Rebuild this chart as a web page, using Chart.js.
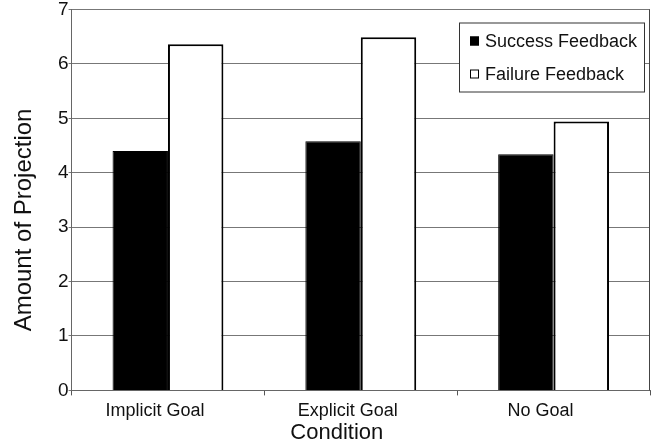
<!DOCTYPE html>
<html lang="en">
<head>
    <meta charset="UTF-8">
    <title>Amount of Projection by Condition</title>
    <script src="https://cdn.jsdelivr.net/npm/chart.js"></script>
    <style>
        html, body { margin: 0; padding: 0; background: #fff; }
        #wrap { width: 655px; height: 448px; position: relative; }
    </style>
</head>
<body>
    <div id="wrap"><canvas id="chart"></canvas></div>

    <script>
        const conditions = ['Implicit Goal', 'Explicit Goal', 'No Goal'];
        const successFeedback = [4.40, 4.58, 4.34];
        const failureFeedback = [6.36, 6.49, 4.94];
        const seriesNames = ['Success Feedback', 'Failure Feedback'];
        const xTitle = 'Condition';
        const yTitle = 'Amount of Projection';

        const FONT = '"Liberation Sans", Arial, sans-serif';

        // axis titles, right frame line and the boxed legend inside the plot
        const decorations = {
            id: 'decorations',
            afterDraw(chart) {
                const ctx = chart.ctx;
                const area = chart.chartArea;
                ctx.save();
                ctx.strokeStyle = '#444';
                ctx.lineWidth = 1;
                ctx.beginPath();
                ctx.moveTo(area.right - 0.5, area.top);
                ctx.lineTo(area.right - 0.5, area.bottom);
                ctx.stroke();

                // titles (sit a bit off-centre in the original)
                ctx.fillStyle = '#111';
                ctx.textAlign = 'center';
                ctx.textBaseline = 'middle';
                ctx.font = '22px ' + FONT;
                ctx.fillText(xTitle, area.left + (area.right - area.left) / 2 - 24, 433);
                ctx.save();
                ctx.translate(24, area.top + (area.bottom - area.top) / 2 + 20);
                ctx.rotate(-Math.PI / 2);
                ctx.font = '24px ' + FONT;
                ctx.fillText(yTitle, 0, 0);
                ctx.restore();

                const x = area.right - 191, y = area.top + 13, w = 185, h = 69;
                ctx.fillStyle = '#fff';
                ctx.fillRect(x, y, w, h);
                ctx.strokeStyle = '#333';
                ctx.strokeRect(x + 0.5, y + 0.5, w, h);
                ctx.font = '18px ' + FONT;
                ctx.textAlign = 'left';
                chart.data.datasets.forEach((ds, i) => {
                    const ly = y + 20 + i * 33;
                    ctx.fillStyle = ds.backgroundColor;
                    ctx.fillRect(x + 11, ly - 6, 9, 9);
                    ctx.strokeStyle = '#000';
                    ctx.strokeRect(x + 11.5, ly - 5.5, 8, 8);
                    ctx.fillStyle = '#111';
                    ctx.fillText(ds.label, x + 26, ly);
                });
                ctx.restore();
            }
        };

        new Chart(document.getElementById('chart'), {
            type: 'bar',
            data: {
                labels: conditions,
                datasets: [{
                    label: seriesNames[0],
                    data: successFeedback,
                    backgroundColor: '#000',
                    borderColor: '#000',
                    borderWidth: 1
                }, {
                    label: seriesNames[1],
                    data: failureFeedback,
                    backgroundColor: '#fff',
                    borderColor: '#000',
                    borderWidth: 2
                }]
            },
            options: {
                responsive: true,
                maintainAspectRatio: false,
                animation: false,
                categoryPercentage: 0.575,
                barPercentage: 1,
                layout: { padding: { top: 0, right: 5, left: 58, bottom: 21 } },
                plugins: {
                    legend: { display: false },
                    tooltip: { enabled: false }
                },
                scales: {
                    x: {
                        grid: {
                            offset: true,
                            drawOnChartArea: false,
                            color: '#555',
                            tickLength: 5
                        },
                        border: { color: '#666' },
                        ticks: {
                            color: '#111',
                            font: { family: FONT, size: 18, lineHeight: 1.2 },
                            padding: 5,
                            labelOffset: -13
                        }
                    },
                    y: {
                        min: 0,
                        max: 7,
                        ticks: {
                            stepSize: 1,
                            color: '#111',
                            font: { family: FONT, size: 19, lineHeight: 1.0 },
                            padding: 0
                        },
                        grid: { color: '#777', tickLength: 3 },
                        border: { color: '#666' }
                    }
                }
            },
            plugins: [decorations]
        });
    </script>
</body>
</html>
